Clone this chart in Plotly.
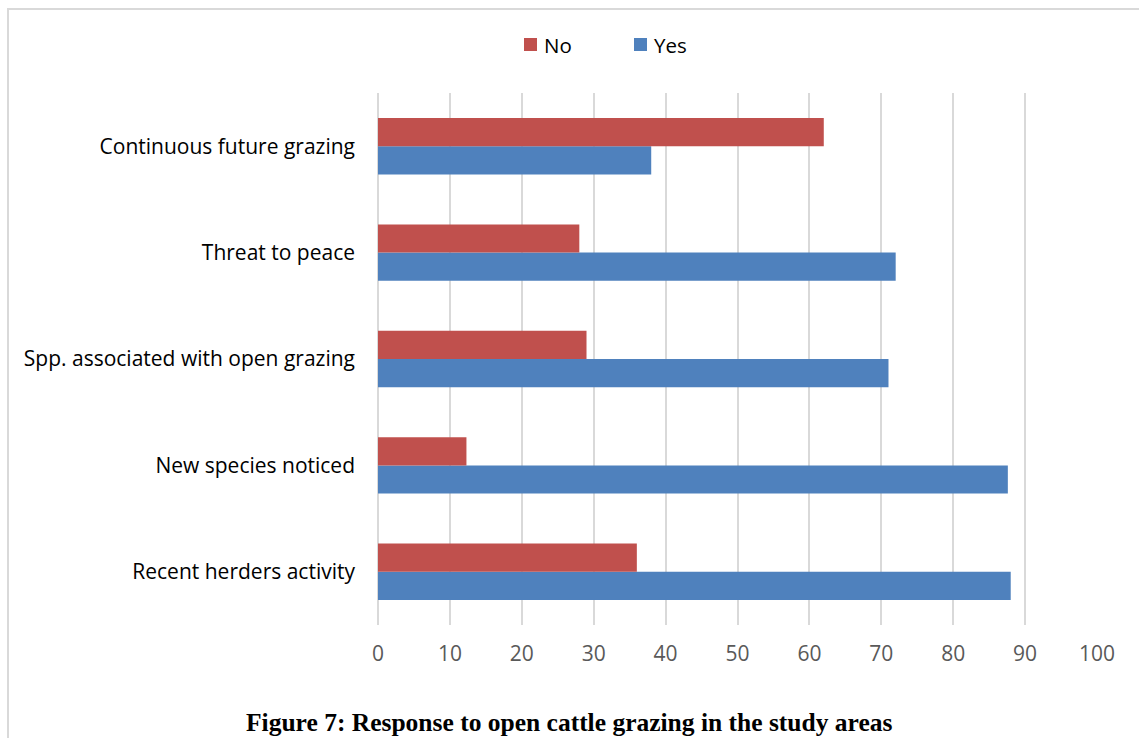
import plotly.graph_objects as go

categories = ["Continuous future grazing", "Threat to peace", "Spp. associated with open grazing",
              "New species noticed", "Recent herders activity"]
no_vals = [62, 28, 29, 12.3, 36]
yes_vals = [38, 72, 71, 87.6, 88]
x_ticks = [0, 10, 20, 30, 40, 50, 60, 70, 80, 90, 100]
series_names = ["No", "Yes"]
series_colors = ["#c0504d", "#4f81bd"]

W, H = 1139, 738
L, R, T, B = 378, 42, 93, 113
pw, ph = W - L - R, H - T - B

def px_x(p):
    return (p - L) / pw

def px_y(p):
    return 1 - (p - T) / ph

fig = go.Figure()
fig.add_trace(go.Bar(y=categories, x=yes_vals, name="Yes", orientation="h",
                     marker=dict(color=series_colors[1], line=dict(width=0))))
fig.add_trace(go.Bar(y=categories, x=no_vals, name="No", orientation="h",
                     marker=dict(color=series_colors[0], line=dict(width=0))))

# manual legend (matching reference spacing)
legend_sq_x = [524, 634]
shapes = [dict(type="rect", xref="paper", yref="paper",
               x0=px_x(8), x1=px_x(1145), y0=px_y(745), y1=px_y(9),
               line=dict(color="#d9d9d9", width=2), fillcolor="rgba(0,0,0,0)", layer="below")]
annotations = [dict(text="<b>Figure 7: Response to open cattle grazing in the study areas</b>",
                    xref="paper", yref="paper", x=px_x(569), y=px_y(722),
                    xanchor="center", yanchor="middle", showarrow=False,
                    font=dict(family="Liberation Serif", size=25.5, color="#000000"))]
for name, col, sx in zip(series_names, series_colors, legend_sq_x):
    shapes.append(dict(type="rect", xref="paper", yref="paper",
                       x0=px_x(sx), x1=px_x(sx + 13), y0=px_y(51), y1=px_y(38),
                       line=dict(width=0), fillcolor=col))
    annotations.append(dict(text=name, xref="paper", yref="paper", x=px_x(sx + 18), y=px_y(45),
                            xanchor="left", yanchor="middle", showarrow=False,
                            font=dict(size=20.5, color="#000000")))

fig.update_layout(
    width=W, height=H,
    margin=dict(l=L, r=R, t=T, b=B),
    paper_bgcolor="white", plot_bgcolor="white",
    barmode="group", bargap=0.47, bargroupgap=0,
    font=dict(family="Open Sans", color="#000000"),
    showlegend=False,
    xaxis=dict(range=[0, 100], tickvals=x_ticks, showgrid=True, gridcolor="#d9d9d9", gridwidth=2,
               zeroline=True, zerolinecolor="#d9d9d9", zerolinewidth=2, showline=False,
               tickfont=dict(size=21, color="#595959"), ticks="", ticklabelstandoff=14),
    yaxis=dict(categoryorder="array", categoryarray=categories[::-1], showgrid=False,
               zeroline=False, showline=False, ticks="", ticklabelstandoff=22,
               tickfont=dict(size=21, color="#000000")),
    shapes=shapes,
    annotations=annotations,
)

fig.write_html("out.html")
